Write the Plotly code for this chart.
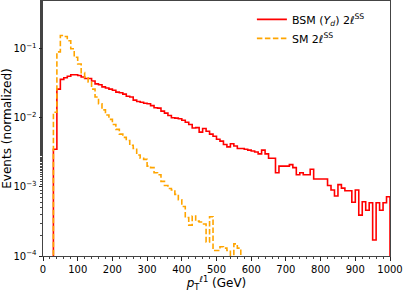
import plotly.graph_objects as go

# ---- data (normalized event fractions per 10 GeV bin) ----
bin_width = 10
x_min, x_max = 0, 1000
bsm_first_edge = 30
bsm_values = [
    0.0035, 0.026, 0.036, 0.038, 0.040, 0.042, 0.042, 0.041, 0.039, 0.037,   # 30-120
    0.037, 0.034, 0.031, 0.030, 0.028, 0.027, 0.026, 0.025, 0.0235, 0.023,   # 130-220
    0.022, 0.0205, 0.020, 0.018, 0.0172, 0.0168, 0.0162, 0.0160, 0.0150, 0.0140,  # 230-320
    0.0138, 0.0125, 0.0117, 0.0108, 0.0100, 0.0099, 0.0097, 0.0092, 0.0086, 0.0080,  # 330-420
    0.0071, 0.0072, 0.0062, 0.0070, 0.0064, 0.0058, 0.0054, 0.0049, 0.0046, 0.0041,  # 430-520
    0.0038, 0.0042, 0.0039, 0.0036, 0.0036, 0.0035, 0.0034, 0.0033, 0.0032, 0.0030,  # 530-620
    0.0034, 0.0030, 0.0026, 0.0026, 0.0016, 0.0020, 0.0020, 0.0020, 0.0021, 0.0019,  # 630-720
    0.0015, 0.0016, 0.0015, 0.0015, 0.0018, 0.0013, 0.0013, 0.0013, 0.0013, 0.00105,  # 730-820
    0.00090, 0.00074, 0.00108, 0.00096, 0.00088, 0.00088, 0.00060, 0.00090, 0.00039, 0.00061,  # 830-920
    0.00046, 0.00059, 0.00017, 0.00059, 0.00046, 0.00059, 0.00072,  # 930-990
]
sm_first_edge = 30
sm_values = [
    0.012, 0.09, 0.155, 0.15, 0.13, 0.10, 0.075, 0.060, 0.045, 0.038,   # 30-120
    0.033, 0.026, 0.020, 0.016, 0.013, 0.011, 0.0095, 0.0080, 0.0068, 0.0058,  # 130-220
    0.0052, 0.0047, 0.0040, 0.0036, 0.0029, 0.0026, 0.0025, 0.0020, 0.0019, 0.0016,  # 230-320
    0.0015, 0.0012, 0.00105, 0.00095, 0.00090, 0.00078, 0.00065, 0.00052, 0.00036, 0.00028,  # 330-420
    0.00038, 0.00032, 0.00031, 0.00029, 0.00016, 0.00037, 0.00012, 0.00012, 0.000136, 0.00013,  # 430-520
    0.00012, 0.00009, 0.00015, 0.00013,  # 530-560
]
ytick_vals = [1e-4, 1e-3, 1e-2, 1e-1]
ytick_text = ["10<sup>\u22124</sup>", "10<sup>\u22123</sup>", "10<sup>\u22122</sup>", "10<sup>\u22121</sup>"]
xtick_vals = [0, 100, 200, 300, 400, 500, 600, 700, 800, 900, 1000]

FLOOR = 1e-7  # below the axis: step drawn down to the baseline


def step_xy(first_edge, values):
    edges = [first_edge + i * bin_width for i in range(len(values) + 1)]
    xs = [edges[0]] + edges[:-1] + [edges[-1], edges[-1]]
    ys = [FLOOR] + list(values) + [values[-1], FLOOR]
    return xs, ys


fig = go.Figure()
bx, by = step_xy(bsm_first_edge, bsm_values)
sx, sy = step_xy(sm_first_edge, sm_values)
fig.add_trace(go.Scatter(x=bx, y=by, mode="lines", line_shape="hv",
                         line=dict(color="#ff0000", width=1.6),
                         name="BSM (<i>Y</i><sub><i>d</i></sub>) 2<i>\u2113</i><sup>SS</sup>"))
fig.add_trace(go.Scatter(x=sx, y=sy, mode="lines", line_shape="hv",
                         line=dict(color="#ffa500", width=1.6, dash="5.5px,2.5px"),
                         name="SM 2<i>\u2113</i><sup>SS</sup>"))

font = "DejaVu Sans, Verdana, sans-serif"
fig.update_layout(
    width=403, height=292,
    margin=dict(l=43, r=13, t=1, b=36),
    paper_bgcolor="white", plot_bgcolor="white",
    font=dict(family=font, size=10, color="black"),
    showlegend=True,
    legend=dict(x=0.602, y=0.985, xanchor="left", yanchor="top",
                bgcolor="rgba(255,255,255,0)", borderwidth=0,
                font=dict(family=font, size=11), tracegroupgap=0),
    xaxis=dict(range=[x_min, x_max], tickvals=xtick_vals, showgrid=False, zeroline=False,
               showline=True, mirror=True, linecolor="#444", linewidth=1,
               ticks="outside", ticklen=3.5, tickwidth=1, tickcolor="#222",
               minor=dict(ticks="outside", ticklen=2, dtick=20, tickcolor="#444"),
               title=dict(text="<i>p</i><sub>T</sub><sup><i>\u2113</i>1</sup> (GeV)",
                          font=dict(size=12), standoff=4)),
    yaxis=dict(type="log", range=[-4, -0.31], tickvals=ytick_vals, ticktext=ytick_text,
               showgrid=False, zeroline=False,
               showline=True, mirror=True, linecolor="#444", linewidth=1,
               ticks="outside", ticklen=3.5, tickwidth=1, tickcolor="#222",
               minor=dict(ticks="outside", ticklen=2, tickcolor="#444", showgrid=False),
               title=dict(text="Events (normalized)", font=dict(size=12), standoff=2)),
)

fig.write_html("out.html", config={"displayModeBar": False, "staticPlot": True},
               post_script="document.body.style.margin='0';document.body.style.overflow='hidden';")
